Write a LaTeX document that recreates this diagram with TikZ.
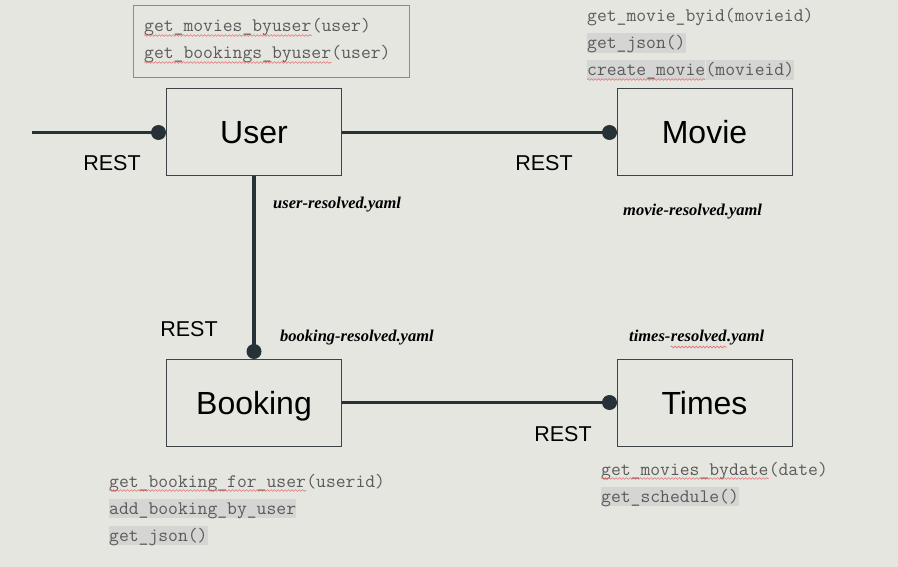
\documentclass[tikz,border=0pt]{standalone}
\usepackage{fontspec}
\setmainfont{Liberation Sans}
\newfontfamily\yamlfont{Liberation Serif}
\usetikzlibrary{decorations.pathmorphing}
\definecolor{bg}{HTML}{E6E6E0}
\definecolor{conncol}{HTML}{263238}
\definecolor{codegray}{HTML}{5A5A5A}
\definecolor{hlgray}{HTML}{D5D5D3}
\definecolor{boxline}{HTML}{3C4446}
\definecolor{notebox}{HTML}{8C8C8C}
\definecolor{squigred}{HTML}{E57373}
\begin{document}
\begin{tikzpicture}[x=1pt,y=-1pt,
  svc/.style={draw=boxline, line width=1pt, minimum width=175pt, minimum height=87pt,
    inner sep=0pt, font=\fontsize{32}{36}\selectfont, text height=23pt, text depth=0pt},
  code/.style={font=\fontsize{19.1}{22}\selectfont\ttfamily, text=codegray, inner xsep=0pt,
    inner ysep=1.5pt, text height=14pt, text depth=2.5pt, anchor=base west},
  hl/.style={code, fill=hlgray},
  squig/.style={draw=squigred, line width=0.6pt, decorate,
    decoration={snake, amplitude=0.9pt, segment length=3.5pt}},
  conn/.style={draw=conncol, line width=3.5pt},
  dot/.style={circle, fill=conncol, minimum size=15pt, inner sep=0pt},
  rest/.style={font=\fontsize{21.5}{24}\selectfont, inner sep=0pt, anchor=base},
  yaml/.style={font=\fontsize{16.5}{20}\selectfont\yamlfont\bfseries\itshape, text=black,
    inner sep=0pt, anchor=base west}
]
\fill[bg] (0,0) rectangle (898,567);
\useasboundingbox (0,0) rectangle (898,567);

% service boxes
\node[svc] (user) at (254,132.5) {User};
\node[svc] (movie) at (704.5,132.5) {Movie};
\node[svc] (booking) at (254,403) {Booking};
\node[svc] (times) at (704.5,403) {Times};

% connectors
\coordinate (lft) at (32,132.5);
\node[dot] (d1) at (158.5,132.5) {};
\node[dot] (d2) at (609.5,132.5) {};
\node[dot] (d3) at (254,351.5) {};
\node[dot] (d4) at (609.5,402.5) {};
\draw[conn] (lft) -- (d1.center);
\draw[conn] (user.east |- d2) -- (d2.center);
\draw[conn] (user.south) -- (d3.center);
\draw[conn] (booking.east |- d4) -- (d4.center);

% REST labels
\node[rest] (r1) at (112,170.5) {REST};
\node[rest] (r2) at (544,170.5) {REST};
\node[rest] (r3) at (189,336.5) {REST};
\node[rest] (r4) at (563,441.5) {REST};

% yaml labels
\node[yaml] (y1) at (273,209) {user-resolved.yaml};
\node[yaml] (y2) at (623,215) {movie-resolved.yaml};
\node[yaml] (y3) at (280,341) {booking-resolved.yaml};
\node[yaml] (y4a) at (629,341) {times-};
\node[yaml] (y4b) at (y4a.base east) {resolved};
\node[yaml] (y4c) at (y4b.base east) {.yaml};
\draw[squig] ([yshift=-6pt]y4b.base west) -- ([yshift=-6pt]y4b.base east);

% user notes box
\node[draw=notebox, line width=1pt, minimum width=276pt, minimum height=72pt,
  inner sep=0pt, anchor=north west] (notes) at (133,5) {};
\node[code] (u1n) at (144,32) {get\_movies\_byuser};
\node[code] (u1a) at (u1n.base east) {(user)};
\node[code] (u2n) at (144,59) {get\_bookings\_byuser};
\node[code] (u2a) at (u2n.base east) {(user)};
\draw[squig] ([yshift=-3.5pt]u1n.base west) -- ([yshift=-3.5pt]u1n.base east);
\draw[squig] ([yshift=-3.5pt]u2n.base west) -- ([yshift=-3.5pt]u2n.base east);

% movie code
\node[code] (m1) at (587,22) {get\_movie\_byid(movieid)};
\node[hl] (m2) at (587,49) {get\_json()};
\node[hl] (m3n) at (587,76) {create\_movie};
\node[hl] (m3a) at (m3n.base east) {(movieid)};
\draw[squig] ([yshift=-3.5pt]m3n.base west) -- ([yshift=-3.5pt]m3n.base east);

% booking code
\node[code] (b1n) at (109,487) {get\_booking\_for\_user};
\node[code] (b1a) at (b1n.base east) {(userid)};
\node[hl] (b2) at (109,514) {add\_booking\_by\_user};
\node[hl] (b3) at (109,541) {get\_json()};
\draw[squig] ([yshift=-3.5pt]b1n.base west) -- ([yshift=-3.5pt]b1n.base east);

% times code
\node[code] (t1n) at (601,475) {get\_movies\_bydate};
\node[code] (t1a) at (t1n.base east) {(date)};
\node[hl] (t2) at (601,502) {get\_schedule()};
\draw[squig] ([yshift=-3.5pt]t1n.base west) -- ([yshift=-3.5pt]t1n.base east);
\end{tikzpicture}
\end{document}
